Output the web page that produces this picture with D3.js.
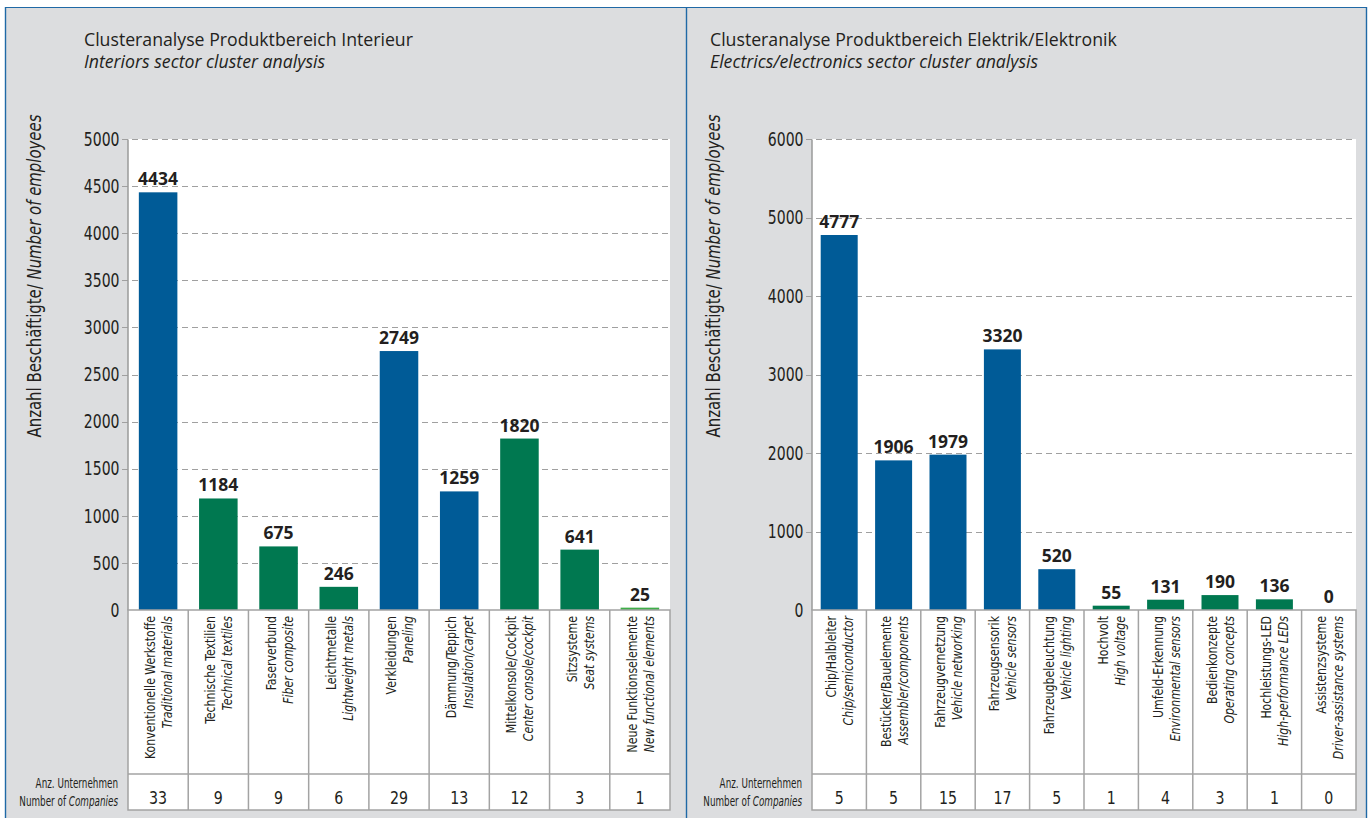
<!DOCTYPE html>
<html><head><meta charset="utf-8">
<script src="https://cdn.jsdelivr.net/npm/d3@7"></script>
<style>
body{margin:0;background:#fff;}
svg{display:block;}
text{fill:#231f20;}
</style></head>
<body>
<svg id="chart" width="1370" height="818"></svg>
<script>
// ---------- DATA ----------
const leftTitle = "Clusteranalyse Produktbereich Interieur";
const leftSubtitle = "Interiors sector cluster analysis";
const leftCategoriesDe = ["Konventionelle Werkstoffe","Technische Textilien","Faserverbund","Leichtmetalle","Verkleidungen","Dämmung/Teppich","Mittelkonsole/Cockpit","Sitzsysteme","Neue Funktionselemente"];
const leftCategoriesEn = ["Traditional materials","Technical textiles","Fiber composite","Lightweight metals","Paneling","Insulation/carpet","Center console/cockpit","Seat systems","New functional elements"];
const leftEmployees = [4434,1184,675,246,2749,1259,1820,641,25];
const leftCompanies = [33,9,9,6,29,13,12,3,1];
const leftGroup = ["A","B","B","B","A","A","B","B","C"];
const leftTicks = [0,500,1000,1500,2000,2500,3000,3500,4000,4500,5000];

const rightTitle = "Clusteranalyse Produktbereich Elektrik/Elektronik";
const rightSubtitle = "Electrics/electronics sector cluster analysis";
const rightCategoriesDe = ["Chip/Halbleiter","Bestücker/Bauelemente","Fahrzeugvernetzung","Fahrzeugsensorik","Fahrzeugbeleuchtung","Hochvolt","Umfeld-Erkennung","Bedienkonzepte","Hochleistungs-LED","Assistenzsysteme"];
const rightCategoriesEn = ["Chip/semiconductor","Assembler/components","Vehicle networking","Vehicle sensors","Vehicle lighting","High voltage","Environmental sensors","Operating concepts","High-performance LEDs","Driver-assistance systems"];
const rightEmployees = [4777,1906,1979,3320,520,55,131,190,136,0];
const rightCompanies = [5,5,15,17,5,1,4,3,1,0];
const rightGroup = ["A","A","A","A","A","B","B","B","B","B"];
const rightTicks = [0,1000,2000,3000,4000,5000,6000];

const yTitleDe = "Anzahl Beschäftigte/ ";
const yTitleEn = "Number of employees";
const rowLabelDe = "Anz. Unternehmen";
const rowLabelEn1 = "Number of ";
const rowLabelEn2 = "Companies";

// ---------- STYLE ----------
const color = d3.scaleOrdinal().domain(["A","B","C"]).range(["#005b97","#007850","#3fae49"]);
const condensed = "'DejaVu Sans Condensed','Liberation Sans Narrow',sans-serif";
const titleFont = "'Open Sans','Noto Sans',sans-serif";

const svg = d3.select("#chart");
// frame
svg.append("rect").attr("x",5).attr("y",7).attr("width",1362).attr("height",811).attr("fill","#dcdddf");
const borderColor = "#1f69a6";
svg.append("line").attr("x1",5).attr("x2",1367).attr("y1",7.5).attr("y2",7.5).attr("stroke",borderColor).attr("stroke-width",1.2);
[5.5,686.5,1366.5].forEach(x=>svg.append("line").attr("x1",x).attr("x2",x).attr("y1",7).attr("y2",818).attr("stroke",borderColor).attr("stroke-width",1.4));

function panel(cfg){
  const g = svg.append("g");
  const top = 139, bottom = 610, tableMid = 774, tableBottom = 810;
  const y = d3.scaleLinear().domain([0, cfg.ticks[cfg.ticks.length-1]]).range([bottom, top]);
  const idx = cfg.de.map((d,i)=>i);
  const col = d3.scaleBand().domain(idx).range([cfg.x0, cfg.x1]).padding(0);
  const bar = d3.scaleBand().domain(idx).range([cfg.x0, cfg.x1]).paddingInner(cfg.pad).paddingOuter(cfg.pad/2);

  // titles
  g.append("text").attr("x",cfg.titleX).attr("y",46).attr("font-family",titleFont).attr("font-size",17.7).text(cfg.title);
  g.append("text").attr("x",cfg.titleX).attr("y",68).attr("font-family",titleFont).attr("font-size",17.7).attr("font-style","italic").text(cfg.subtitle);

  // plot background
  g.append("rect").attr("x",cfg.x0).attr("y",top).attr("width",cfg.x1-cfg.x0).attr("height",bottom-top).attr("fill","#fff");

  // grid
  g.selectAll(".grid").data(cfg.ticks.filter(t=>t>0)).join("line")
    .attr("x1",cfg.x0-6).attr("x2",cfg.x1)
    .attr("y1",d=>Math.round(y(d))+0.5).attr("y2",d=>Math.round(y(d))+0.5)
    .attr("stroke","#a0a0a0").attr("stroke-width",1.2).attr("stroke-dasharray","6,4");

  // y axis
  const ax = g.append("g").attr("transform",`translate(${cfg.x0-0.5},0)`)
    .call(d3.axisLeft(y).tickValues(cfg.ticks).tickSize(0).tickPadding(8).tickFormat(d3.format("d")));
  ax.select(".domain").attr("stroke","#9a9a9a").attr("stroke-width",1.5);
  ax.selectAll("text").attr("font-family",condensed).attr("font-size",19.5).attr("fill","#231f20")
    .attr("x",-8/0.8).attr("transform","scale(0.8,1)");

  // bars
  g.selectAll(".bar").data(idx).join("rect")
    .attr("x",i=>bar(i)).attr("width",bar.bandwidth())
    .attr("y",i=>y(cfg.values[i])).attr("height",i=>bottom-y(cfg.values[i]))
    .attr("fill",i=>color(cfg.group[i]));
  // value labels
  g.selectAll(".val").data(idx).join("text")
    .attr("x",i=>bar(i)+bar.bandwidth()/2).attr("y",i=>y(cfg.values[i])-7)
    .attr("text-anchor","middle").attr("font-family",titleFont).attr("font-weight","bold").attr("font-size",17.5)
    .text(i=>cfg.values[i]);

  // table
  const tg = g.append("g");
  tg.append("rect").attr("x",cfg.x0).attr("y",bottom).attr("width",cfg.x1-cfg.x0).attr("height",tableBottom-bottom)
    .attr("fill","#fff").attr("stroke","#a3a3a3").attr("stroke-width",1.5);
  tg.append("line").attr("x1",cfg.x0).attr("x2",cfg.x1).attr("y1",tableMid).attr("y2",tableMid).attr("stroke","#a3a3a3").attr("stroke-width",1.5);
  tg.selectAll(".sep").data(idx.slice(1)).join("line")
    .attr("x1",i=>col(i)).attr("x2",i=>col(i)).attr("y1",bottom).attr("y2",tableBottom)
    .attr("stroke","#a3a3a3").attr("stroke-width",1.5);
  // category labels
  idx.forEach(i=>{
    const cx = col(i)+col.bandwidth()/2;
    tg.append("text").attr("transform",`translate(${cx-3},616) rotate(-90) scale(0.84,1)`).attr("text-anchor","end")
      .attr("font-family",condensed).attr("font-size",14.5).text(cfg.de[i]);
    tg.append("text").attr("transform",`translate(${cx+14},616) rotate(-90) scale(0.84,1)`).attr("text-anchor","end")
      .attr("font-family",condensed).attr("font-size",14.5).attr("font-style","italic").text(cfg.en[i]);
  });
  // counts
  tg.selectAll(".cnt").data(idx).join("text")
    .attr("transform",i=>`translate(${col(i)+col.bandwidth()/2},804) scale(0.9,1)`).attr("text-anchor","middle")
    .attr("font-family",condensed).attr("font-size",17.5).text(i=>cfg.companies[i]);
  // row label
  g.append("text").attr("transform",`translate(${cfg.x0-10},788) scale(0.7,1)`).attr("text-anchor","end").attr("font-family",condensed).attr("font-size",14).text(rowLabelDe);
  const rl = g.append("text").attr("transform",`translate(${cfg.x0-10},806) scale(0.7,1)`).attr("text-anchor","end").attr("font-family",condensed).attr("font-size",14);
  rl.append("tspan").text(rowLabelEn1);
  rl.append("tspan").attr("font-style","italic").text(rowLabelEn2);

  // y title
  const yt = g.append("text").attr("transform",`translate(${cfg.yTitleX},276) rotate(-90) scale(0.85,1)`).attr("text-anchor","middle")
    .attr("font-family",condensed).attr("font-size",19.5);
  yt.append("tspan").text(yTitleDe);
  yt.append("tspan").attr("font-style","italic").text(yTitleEn);
}

panel({x0:128,x1:670,pad:0.36,ticks:leftTicks,values:leftEmployees,companies:leftCompanies,group:leftGroup,
  de:leftCategoriesDe,en:leftCategoriesEn,title:leftTitle,subtitle:leftSubtitle,titleX:84,yTitleX:41});
panel({x0:812,x1:1356,pad:0.32,ticks:rightTicks,values:rightEmployees,companies:rightCompanies,group:rightGroup,
  de:rightCategoriesDe,en:rightCategoriesEn,title:rightTitle,subtitle:rightSubtitle,titleX:710,yTitleX:720});
</script>
</body></html>
